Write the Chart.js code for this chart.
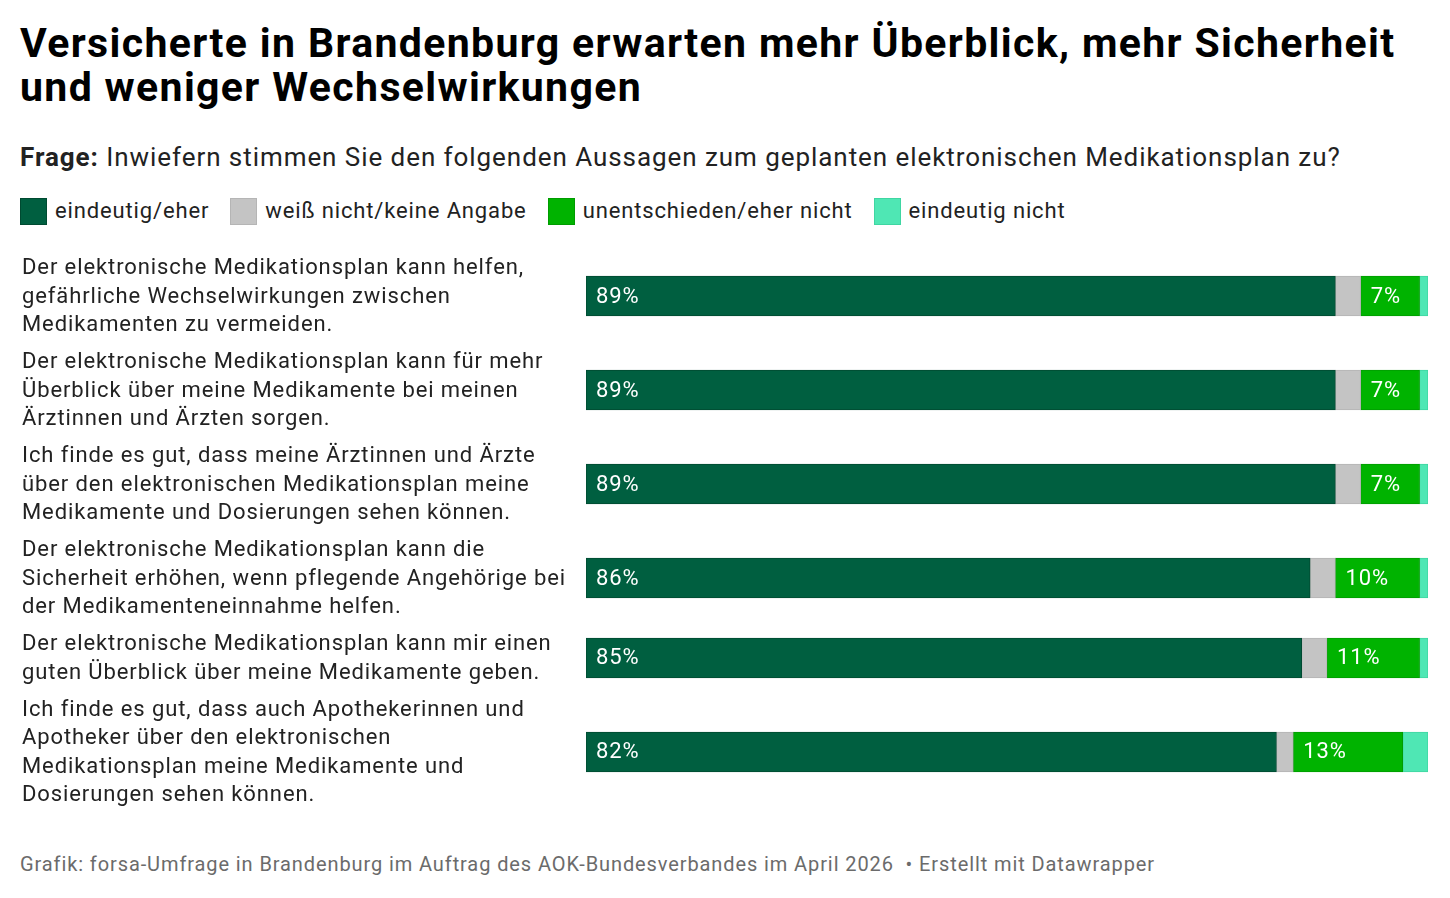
<!DOCTYPE html>
<html lang="de">
<head>
<meta charset="utf-8">
<script src="https://cdn.jsdelivr.net/npm/chart.js@4.4.1/dist/chart.umd.min.js"></script>
<style>
  html, body { margin: 0; padding: 0; background: #fff; }
  body { width: 1450px; height: 898px; position: relative; overflow: hidden; font-family: Roboto, "Noto Sans", sans-serif; color: #000; }
  h1 { position: absolute; left: 20px; top: 21px; margin: 0; font-size: 41px; line-height: 44px; font-weight: 700; letter-spacing: 1.35px; white-space: nowrap; }
  .sub { position: absolute; left: 20px; top: 142px; margin: 0; font-size: 26px; line-height: 30px; color: #222; letter-spacing: 0.94px; white-space: nowrap; }
  .sub b { font-weight: 700; }
  #legend { position: absolute; left: 20px; top: 197px; display: flex; font-size: 22px; line-height: 28px; color: #222; letter-spacing: 0.86px; white-space: nowrap; }
  #legend .item { display: flex; align-items: center; margin-right: 21px; }
  #legend .sw { width: 25px; height: 25px; margin-right: 8px; border: 1px solid; }
  #wrap { position: absolute; left: 0; top: 249px; width: 1450px; height: 564px; }
  .foot { position: absolute; left: 20px; top: 851px; font-size: 20px; line-height: 26px; color: #6b6b6b; letter-spacing: 0.9px; white-space: nowrap; }
</style>
</head>
<body>
<h1>Versicherte in Brandenburg erwarten mehr Überblick, mehr Sicherheit<br>und weniger Wechselwirkungen</h1>
<p class="sub"><b>Frage:</b> Inwiefern stimmen Sie den folgenden Aussagen zum geplanten elektronischen Medikationsplan zu?</p>
<div id="legend"></div>
<div id="wrap"><canvas id="chart"></canvas></div>
<div class="foot">Grafik: forsa-Umfrage in Brandenburg im Auftrag des AOK-Bundesverbandes im April 2026 &nbsp;• Erstellt mit Datawrapper</div>

<script>
// statements, already broken into lines like the original
const statements = [
    ["Der elektronische Medikationsplan kann helfen,", "gefährliche Wechselwirkungen zwischen", "Medikamenten zu vermeiden."],
    ["Der elektronische Medikationsplan kann für mehr", "Überblick über meine Medikamente bei meinen", "Ärztinnen und Ärzten sorgen."],
    ["Ich finde es gut, dass meine Ärztinnen und Ärzte", "über den elektronischen Medikationsplan meine", "Medikamente und Dosierungen sehen können."],
    ["Der elektronische Medikationsplan kann die", "Sicherheit erhöhen, wenn pflegende Angehörige bei", "der Medikamenteneinnahme helfen."],
    ["Der elektronische Medikationsplan kann mir einen", "guten Überblick über meine Medikamente geben."],
    ["Ich finde es gut, dass auch Apothekerinnen und", "Apotheker über den elektronischen", "Medikationsplan meine Medikamente und", "Dosierungen sehen können."]
];

const seriesNames = ["eindeutig/eher", "weiß nicht/keine Angabe", "unentschieden/eher nicht", "eindeutig nicht"];
const agree     = [89, 89, 89, 86, 85, 82];
const dontKnow  = [3, 3, 3, 3, 3, 2];
const undecided = [7, 7, 7, 10, 11, 13];
const disagree  = [1, 1, 1, 1, 1, 3];

const colors  = ["#005f40", "#c4c4c4", "#00b300", "#4fe7b4"];
const borders = ["#004a31", "#b5b5b5", "#009c00", "#3fd6a2"];
const labelled = [true, false, true, false];

// rows get taller with more text lines, like in Datawrapper
const lineH = 28.5;
const rowGap = 10;
const rowPos = [];
let cursor = rowGap / 2;
statements.forEach(s => {
    rowPos.push(cursor + s.length * lineH / 2);
    cursor += s.length * lineH + rowGap;
});
const totalH = cursor - rowGap / 2;

const legend = document.getElementById('legend');
seriesNames.forEach((name, i) => {
    const item = document.createElement('div');
    item.className = 'item';
    item.innerHTML = '<span class="sw" style="background:' + colors[i] + ';border-color:' + borders[i] + '"></span>' + name;
    legend.appendChild(item);
});

const values = [agree, dontKnow, undecided, disagree];
const datasets = values.map((vals, i) => ({
    label: seriesNames[i],
    data: vals.map((v, j) => ({ x: v, y: rowPos[j] })),
    backgroundColor: colors[i],
    borderColor: borders[i],
    borderWidth: 1,
    borderSkipped: false,
    barThickness: 40
}));

const FONT = 'Roboto, "Noto Sans", sans-serif';

// statement texts, placed on the y scale positions of the rows
const rowLabels = {
    id: 'rowLabels',
    afterDraw(chart) {
        const ctx = chart.ctx;
        const y = chart.scales.y;
        ctx.save();
        ctx.font = '22px ' + FONT;
        ctx.letterSpacing = '0.9px';
        ctx.fillStyle = '#222';
        ctx.textAlign = 'left';
        ctx.textBaseline = 'middle';
        statements.forEach((lines, i) => {
            const mid = y.getPixelForValue(rowPos[i]);
            lines.forEach((line, k) => {
                ctx.fillText(line, 22, mid + (k - (lines.length - 1) / 2) * lineH + 1);
            });
        });
        ctx.restore();
    }
};

// percentage labels inside the dark green and green segments
const valueLabels = {
    id: 'valueLabels',
    afterDatasetsDraw(chart) {
        const ctx = chart.ctx;
        ctx.save();
        ctx.font = '22px ' + FONT;
        ctx.letterSpacing = '0.9px';
        ctx.fillStyle = '#fff';
        ctx.textAlign = 'left';
        ctx.textBaseline = 'middle';
        chart.data.datasets.forEach((ds, i) => {
            if (!labelled[i]) return;
            chart.getDatasetMeta(i).data.forEach((bar, j) => {
                const start = Math.min(bar.base, bar.x);
                ctx.fillText(values[i][j] + '%', start + 10, bar.y + 1);
            });
        });
        ctx.restore();
    }
};

new Chart(document.getElementById('chart'), {
    type: 'bar',
    data: { datasets: datasets },
    options: {
        indexAxis: 'y',
        responsive: true,
        maintainAspectRatio: false,
        animation: false,
        layout: { padding: { left: 586, right: 22, top: 0, bottom: 0 } },
        plugins: {
            legend: { display: false },
            tooltip: { enabled: false }
        },
        scales: {
            x: {
                stacked: true,
                min: 0,
                max: 100,
                display: false
            },
            y: {
                type: 'linear',
                stacked: true,
                reverse: true,
                offset: false,
                min: 0,
                max: totalH,
                display: false
            }
        }
    },
    plugins: [valueLabels, rowLabels]
});
</script>
</body>
</html>
